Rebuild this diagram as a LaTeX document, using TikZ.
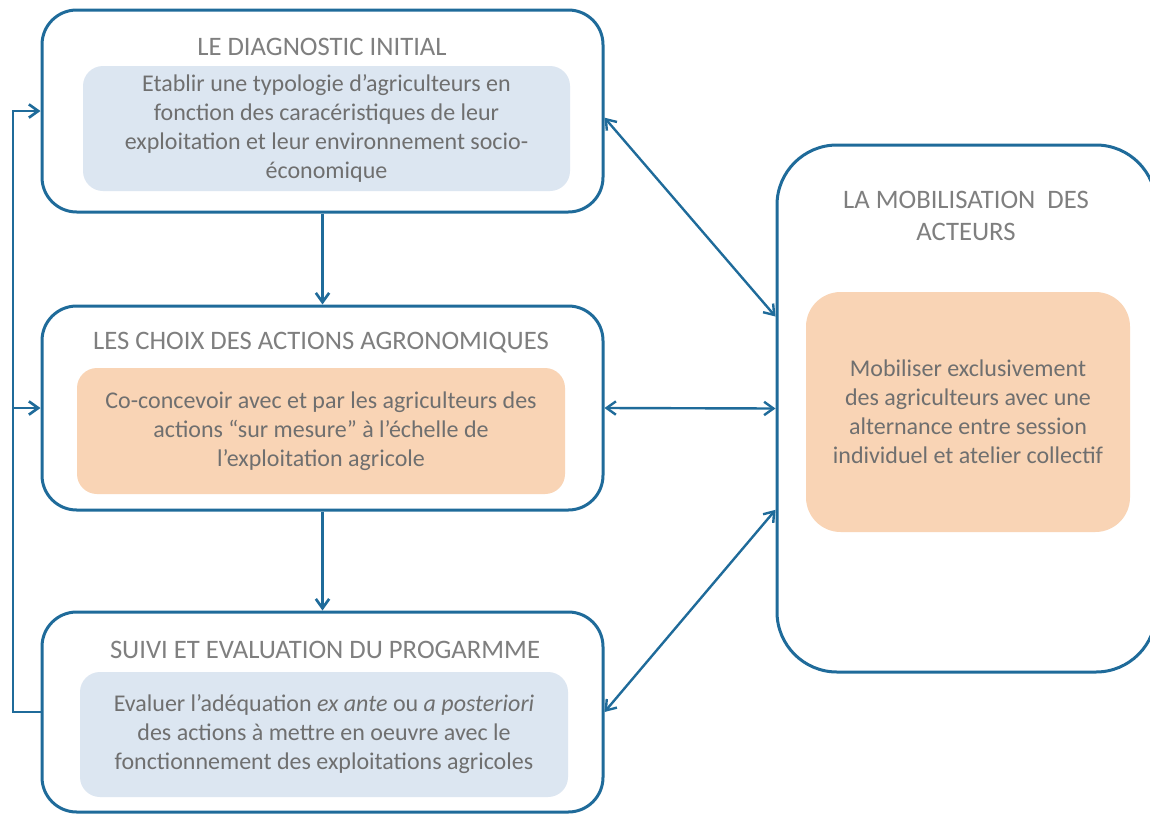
\documentclass[tikz,border=0pt]{standalone}
\usepackage{fontspec}
\setmainfont{Carlito}
\usetikzlibrary{arrows.meta}
\definecolor{frameblue}{HTML}{1F6B9A}
\definecolor{paleblue}{HTML}{DCE6F1}
\definecolor{peach}{HTML}{F9D4B5}
\definecolor{titlegray}{HTML}{7F7F7F}
\definecolor{bodygray}{HTML}{6F6F6F}
\tikzset{
  stage/.style={draw=frameblue, line width=2.25pt, rounded corners=26pt, minimum width=420.75pt, fill=white},
  inner/.style={rounded corners=15pt, align=center, text=bodygray, font=\fontsize{18}{21.75}\selectfont},
  heading/.style={text=titlegray, align=center, font=\fontsize{20}{24.5}\selectfont},
  flow/.style={draw=frameblue, line width=2pt, -{Straight Barb[length=7pt,width=10pt]}},
  both/.style={draw=frameblue, line width=1.8pt, {Straight Barb[length=7pt,width=10pt]}-{Straight Barb[length=7pt,width=10pt]}}
}

\begin{document}
\begin{tikzpicture}[x=0.75pt,y=0.75pt,yscale=-1,xscale=1]
\useasboundingbox (0,0) rectangle (1150,814);

%Shape: Rounded Rect [id:diag]
\node [stage, minimum height=151.5pt] (diag) at (322.5,111) {};
%Shape: Rounded Rect [id:choix]
\node [stage, minimum height=153pt] (choix) at (322.5,408) {};
%Shape: Rounded Rect [id:suivi]
\node [stage, minimum height=150pt] (suivi) at (322.5,712) {};
%Shape: Rounded Rect [id:mobil]
\node [stage, rounded corners=45pt, minimum width=284.25pt, minimum height=395.25pt] (mobil) at (966.5,408.5) {};

%Shape: Rounded Rect [id:diagtxt]
\node [inner, fill=paleblue, minimum width=365.25pt, minimum height=93.75pt] (diagtxt) at (326.5,128.5) {Etablir une typologie d'agriculteurs en\\fonction des caracéristiques de leur\\exploitation et leur environnement socio-\\économique};
%Shape: Rounded Rect [id:choixtxt]
\node [inner, fill=peach, minimum width=366pt, minimum height=94.5pt] (choixtxt) at (321,431) {Co-concevoir avec et par les agriculteurs des\\actions “sur mesure” à l'échelle de\\l'exploitation agricole};
%Shape: Rounded Rect [id:suivitxt]
\node [inner, fill=paleblue, minimum width=366pt, minimum height=93.75pt] (suivitxt) at (324,734.5) {Evaluer l'adéquation \textit{ex ante} ou \textit{a posteriori}\\des actions à mettre en oeuvre avec le\\fonctionnement des exploitations agricoles};
%Shape: Rounded Rect [id:mobiltxt]
\node [inner, rounded corners=26pt, fill=peach, minimum width=243pt, minimum height=180pt] (mobiltxt) at (968,412) {Mobiliser exclusivement\\des agriculteurs avec une\\alternance entre session\\individuel et atelier collectif};

% Text Node
\node [heading] (diaghead) at (322,47) {LE DIAGNOSTIC INITIAL};
% Text Node
\node [heading] (choixhead) at (321,343) {LES CHOIX DES ACTIONS AGRONOMIQUES};
% Text Node
\node [heading] (suivihead) at (325,650) {SUIVI ET EVALUATION DU PROGARMME};
% Text Node
\node [heading] (mobilhead) at (966,216) {LA MOBILISATION~ DES\\ACTEURS};

%Loop back
\coordinate (loopx) at (13,0);
\draw [flow] (suivi.west) -- (suivi.west -| loopx) |- (diag.west);
\draw [flow] (choix.west -| loopx) -- (choix.west);

%Down arrows
\draw [flow] (diag.south) -- (choix.north);
\draw [flow] (choix.south) -- (suivi.north);

%Links to the actors
\draw [both] ([yshift=5pt]diag.east) -- ([yshift=-69pt]mobil.west);
\draw [both] (choix.east) -- (mobil.west);
\draw [both] (suivi.east) -- ([yshift=76pt]mobil.west);

\end{tikzpicture}
\end{document}
